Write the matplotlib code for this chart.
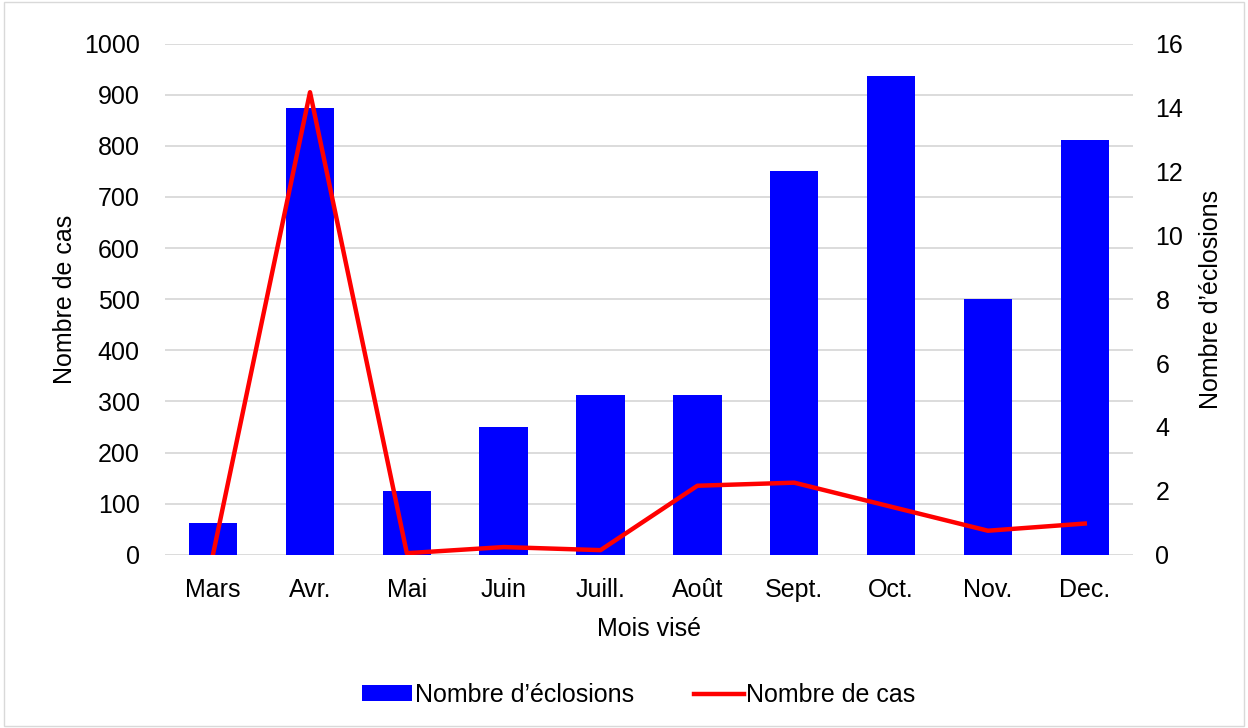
import matplotlib.pyplot as plt
import numpy as np

plt.rcParams['font.family'] = ['Liberation Sans', 'DejaVu Sans']

mois = ['Mars', 'Avr.', 'Mai', 'Juin', 'Juill.', 'Août', 'Sept.', 'Oct.', 'Nov.', 'Dec.']
eclosions = [1, 14, 2, 4, 5, 5, 12, 15, 8, 13]
cas = [2, 905, 3, 15, 9, 135, 141, 94, 47, 61]

fig = plt.figure(figsize=(12.48, 7.28), dpi=100)
ax = fig.add_axes([0.132, 0.238, 0.776, 0.702])
ax2 = ax.twinx()

x = np.arange(len(mois))

# bars on right axis, line on left axis
ax2.bar(x, eclosions, width=0.5, color='#0000ff', label="Nombre d\u2019éclosions", zorder=2)
ax.set_zorder(ax2.get_zorder() + 1)
ax.patch.set_visible(False)
ax.plot(x, cas, color='#ff0000', linewidth=3.2, label='Nombre de cas', zorder=3)

ax.set_ylim(0, 1000)
ax.set_yticks(np.arange(0, 1001, 100))
ax2.set_ylim(0, 16)
ax2.set_yticks(np.arange(0, 17, 2))
ax.set_xlim(-0.5, len(mois) - 0.5)
ax.set_xticks(x)
ax.set_xticklabels(mois)

# gridlines drawn on the back axis so they sit behind bars
for v in np.arange(0, 17, 1.6):
    ax2.axhline(v, color='#d9d9d9', linewidth=1.3, zorder=0)

for a in (ax, ax2):
    for s in a.spines.values():
        s.set_visible(False)
    a.tick_params(length=0, labelsize=18)
ax.tick_params(axis='x', pad=16.5)
ax.tick_params(axis='y', pad=18)
ax2.tick_params(axis='y', pad=16)

ax.set_ylabel('Nombre de cas', fontsize=18, labelpad=5)
ax2.set_ylabel("Nombre d\u2019éclosions", fontsize=18, labelpad=11)
ax.set_xlabel('Mois visé', fontsize=18, labelpad=11)

h1, l1 = ax2.get_legend_handles_labels()
h2, l2 = ax.get_legend_handles_labels()
fig.legend(h1 + h2, l1 + l2, loc='center', bbox_to_anchor=(0.512, 0.045), ncol=2,
           frameon=False, fontsize=18, handlelength=2.0, handleheight=0.6,
           handletextpad=0.1, columnspacing=2.4)

fig.patches.append(plt.Rectangle((0.003, 0.003), 0.994, 0.994, transform=fig.transFigure,
                                 fill=False, edgecolor='#d9d9d9', linewidth=1))

fig.savefig('out.png', dpi=100)
